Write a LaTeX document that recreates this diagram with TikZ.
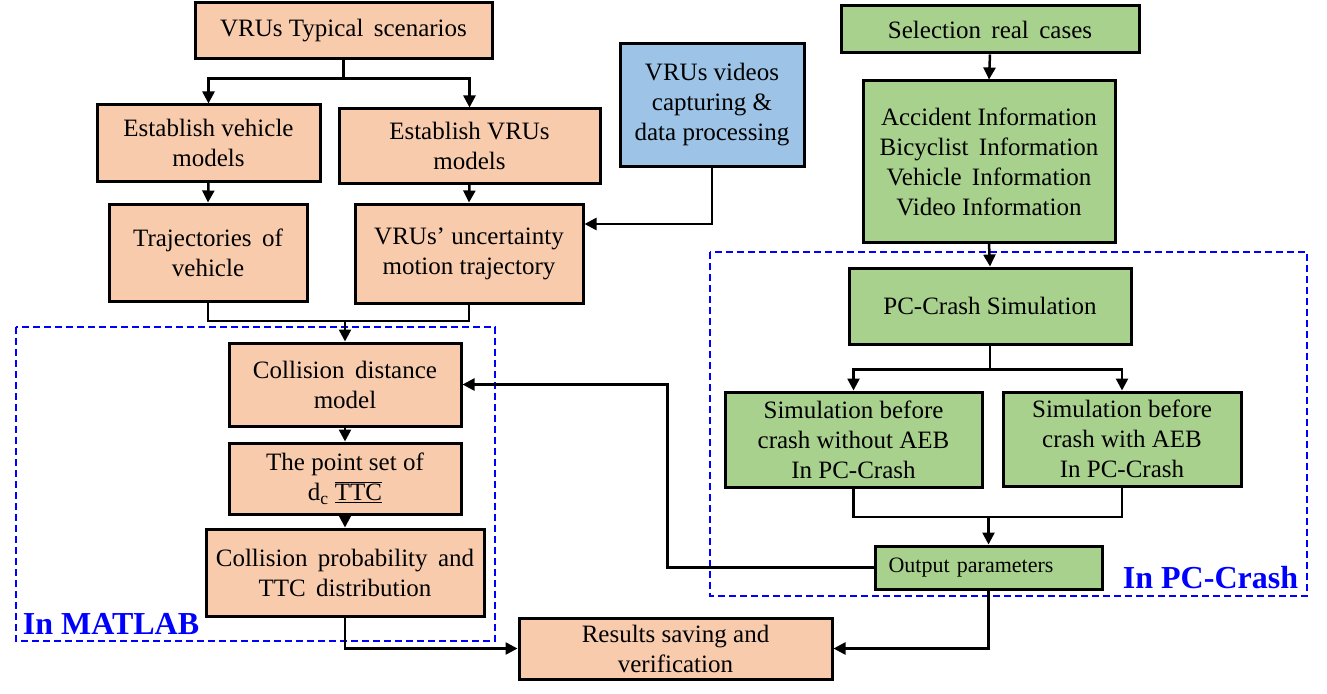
\documentclass[tikz,border=0pt]{standalone}
\usepackage{fontspec}
\setmainfont{Liberation Serif}
\usetikzlibrary{arrows.meta,calc}
\definecolor{peach}{HTML}{F8CBAD}
\definecolor{lgreen}{HTML}{A9D18E}
\definecolor{lblue}{HTML}{9DC3E6}
\definecolor{dblue}{HTML}{0000FF}
\begin{document}
\begin{tikzpicture}[x=1bp,y=-1bp,
  box/.style={draw=black, line width=3bp, align=center, inner sep=0pt,
    font=\fontsize{25bp}{30bp}\selectfont},
  sz/.style 2 args={minimum width=#1bp, minimum height=#2bp},
  pbox/.style={box, fill=peach},
  gbox/.style={box, fill=lgreen},
  bbox/.style={box, fill=lblue},
  conn/.style={draw=black, line width=2.5bp},
  arr/.style={conn, -{Triangle[length=12bp,width=12bp]}},
  region/.style={draw=dblue, line width=2bp, dash pattern=on 7bp off 4bp},
  regionlabel/.style={text=dblue, font=\fontsize{32bp}{36bp}\selectfont\bfseries, inner sep=0pt}
]
\useasboundingbox[fill=white] (0,0) rectangle (1327,693);

% dashed regions
\draw[region] (16,327) rectangle (495,641);
\draw[region] (710,252) rectangle (1307,596);

% left column
\node[pbox, sz={297}{56}] (A) at (343.5,31) {VRUs Typical\, scenarios};
\node[pbox, sz={223}{76}] (B) at (208.5,143) {Establish vehicle\\models};
\node[pbox, sz={261}{74}] (C) at (469.5,146) {Establish VRUs\\models};
\node[pbox, sz={198}{97}] (D) at (208,252.5) {Trajectories\, of\\vehicle};
\node[pbox, sz={228}{99}] (E) at (469,253.5) {VRUs’ uncertainty\\motion trajectory};
\node[bbox, sz={184}{122}] (V) at (712,105) {VRUs videos\\capturing \&\\data processing};

\node[pbox, sz={232}{83}] (F) at (345,384.5) {Collision\, distance\\model};
\node[pbox, sz={232}{71}] (G) at (345,478.5) {The point set of\\d\textsubscript{c} \underline{$\overline{\hbox{TTC}}$}};
\node[pbox, sz={278}{87}] (H) at (345,572.5) {Collision\, probability\, and\\TTC\, distribution};
\node[pbox, sz={313}{61}] (Res) at (675.5,648.5) {Results saving and\\verification};

% right column
\node[gbox, sz={298}{47}] (S) at (990,29.5) {Selection\, real\, cases};
\node[gbox, sz={252}{161}] (I) at (989,161.5) {Accident Information\\Bicyclist\, Information\\Vehicle\, Information\\Video Information};
\node[gbox, sz={282}{76}] (P) at (990,306) {PC-Crash Simulation};
\node[gbox, sz={257}{95}] (L) at (853.5,439.5) {Simulation before\\crash without AEB\\In PC-Crash};
\node[gbox, sz={238}{94}] (R) at (1122,439) {Simulation before\\crash with AEB\\In PC-Crash};
\node[gbox, minimum height=43bp, text width=200bp, inner xsep=13.5bp, align=left,
  font=\fontsize{22bp}{26bp}\selectfont] (O) at (988.5,567.5) {Output parameters};

% labels
\node[regionlabel] (lm) at (111,624) {In MATLAB};
\node[regionlabel] (lp) at (1210.5,578) {In PC-Crash};

% connectors left
\draw[conn] (A.south) -- ++(0,18) coordinate (a1);
\draw[arr] (a1) -| (B.north);
\draw[arr] (a1) -| (C.north);
\draw[arr] (B.south) -- (D.north);
\draw[arr] (C.south) -- (E.north);
\coordinate (j1) at (F.north |- 0,321);
\draw[conn] (D.south) |- (j1);
\draw[conn] (E.south) |- (j1);
\draw[arr] (j1) -- (F.north);
\draw[arr] (V.south) |- ([yshift=29.5bp]E.east);
\draw[arr] (F.south) -- (G.north);
\draw[arr] (G.south) -- (H.north);
\draw[arr] (H.south) |- (Res.west);

% connectors right
\draw[arr] (S.south) -- (I.north);
\draw[arr] (I.south) -- (P.north);
\draw[conn] (P.south) -- ++(0,24) coordinate (p1);
\draw[arr] (p1) -| (L.north);
\draw[arr] (p1) -| (R.north);
\coordinate (j2) at (O.north |- 0,517);
\draw[conn] (L.south) |- (j2);
\draw[conn] (R.south) |- (j2);
\draw[arr] (j2) -- (O.north);
\draw[arr] (O.west) -- ++(-206,0) |- (F.east);
\draw[arr] (O.south) |- (Res.east);
\end{tikzpicture}
\end{document}
